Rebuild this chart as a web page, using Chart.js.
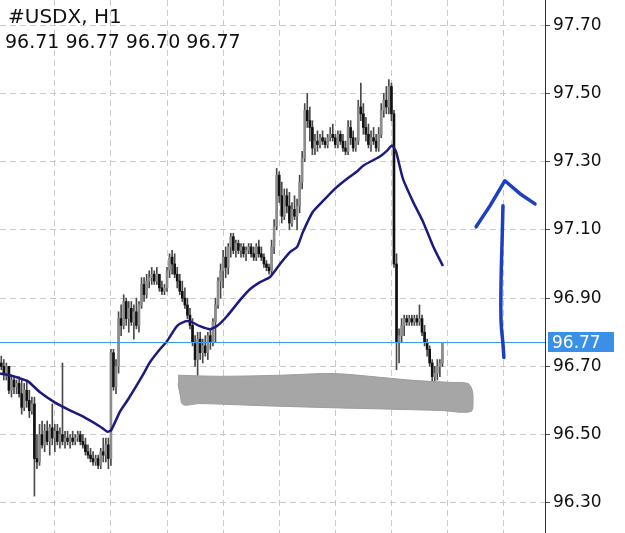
<!DOCTYPE html>
<html>
<head>
<meta charset="utf-8">
<script src="https://cdn.jsdelivr.net/npm/chart.js@4.4.1/dist/chart.umd.min.js"></script>
<style>
  html, body { margin: 0; padding: 0; background: #fff; }
  #wrap { width: 625px; height: 533px; position: relative; }
</style>
</head>
<body>
<div id="wrap"><canvas id="myChart"></canvas></div>
<script>
// USDX H1 candles
const candleOpen = [
  96.71,96.70,96.68,96.70,96.63,96.66,96.64,96.65,96.62,96.58,
  96.63,96.60,96.57,96.59,96.43,96.42,96.50,96.47,96.51,96.48,
  96.52,96.49,96.51,96.48,96.50,96.48,96.49,96.48,96.49,96.48,
  96.49,96.50,96.48,96.47,96.45,96.44,96.43,96.42,96.43,96.41,
  96.45,96.44,96.47,96.43,96.74,96.64,96.70,96.84,96.82,96.89,
  96.84,96.87,96.83,96.86,96.82,96.88,96.94,96.91,96.95,96.96,
  96.97,96.95,96.97,96.93,96.92,96.93,96.98,97.02,97.00,96.97,
  96.95,96.92,96.90,96.88,96.85,96.82,96.77,96.72,96.78,96.74,
  96.76,96.74,96.79,96.77,96.83,96.88,96.95,96.98,97.02,96.99,
  97.05,97.08,97.04,97.06,97.04,97.05,97.03,97.04,97.05,97.03,
  97.02,97.05,97.03,97.02,97.00,96.99,96.98,97.05,97.11,97.26,
  97.20,97.14,97.20,97.17,97.12,97.16,97.14,97.17,97.24,97.31,
  97.45,97.42,97.40,97.34,97.36,97.35,97.37,97.36,97.35,97.37,
  97.38,97.37,97.35,97.38,97.36,97.34,97.33,97.40,97.37,97.34,
  97.36,97.46,97.44,97.40,97.38,97.35,97.37,97.36,97.34,97.38,
  97.45,97.48,97.46,97.52,97.44,97.00,96.77,96.79,96.82,96.84,
  96.83,96.84,96.83,96.84,96.83,96.84,96.80,96.77,96.75,96.71,
  96.67,96.68,96.70,96.71
];
const candleHigh = [
  96.73,96.72,96.71,96.70,96.67,96.67,96.66,96.67,96.66,96.65,
  96.66,96.63,96.61,96.61,96.50,96.53,96.54,96.53,96.54,96.53,
  96.59,96.53,96.53,96.52,96.71,96.51,96.51,96.50,96.51,96.50,
  96.51,96.51,96.50,96.49,96.47,96.46,96.45,96.44,96.44,96.46,
  96.49,96.49,96.49,96.75,96.75,96.72,96.86,96.88,96.91,96.90,
  96.89,96.89,96.88,96.90,96.89,96.96,96.96,96.97,96.98,96.99,
  96.98,96.99,96.97,96.95,96.94,96.99,97.03,97.04,97.03,96.99,
  96.97,96.95,96.93,96.90,96.87,96.84,96.79,96.80,96.80,96.78,
  96.79,96.80,96.81,96.84,96.90,96.96,97.00,97.04,97.05,97.06,
  97.09,97.09,97.07,97.07,97.06,97.06,97.05,97.06,97.06,97.05,
  97.06,97.07,97.05,97.03,97.01,97.00,97.07,97.13,97.28,97.27,
  97.24,97.22,97.22,97.21,97.18,97.20,97.19,97.26,97.33,97.47,
  97.50,97.46,97.42,97.38,97.39,97.38,97.39,97.37,97.38,97.40,
  97.41,97.38,97.39,97.39,97.38,97.36,97.42,97.42,97.39,97.37,
  97.48,97.53,97.47,97.43,97.41,97.39,97.40,97.38,97.40,97.47,
  97.50,97.52,97.54,97.53,97.45,97.03,96.81,96.84,96.85,96.85,
  96.85,96.85,96.85,96.85,96.88,96.85,96.82,96.78,96.76,96.72,
  96.70,96.72,96.72,96.77
];
const candleLow = [
  96.69,96.66,96.66,96.62,96.61,96.62,96.62,96.61,96.56,96.57,
  96.58,96.55,96.56,96.32,96.40,96.41,96.46,96.45,96.47,96.44,
  96.47,96.45,96.47,96.46,96.47,96.46,96.47,96.46,96.47,96.47,
  96.48,96.47,96.46,96.44,96.43,96.42,96.41,96.41,96.40,96.40,
  96.42,96.42,96.40,96.41,96.63,96.62,96.68,96.79,96.81,96.82,
  96.80,96.82,96.78,96.81,96.80,96.87,96.89,96.90,96.93,96.94,
  96.94,96.94,96.92,96.91,96.91,96.92,96.96,96.97,96.96,96.93,
  96.91,96.89,96.87,96.84,96.81,96.76,96.70,96.66,96.72,96.71,
  96.73,96.72,96.75,96.76,96.77,96.87,96.90,96.93,96.96,96.97,
  97.02,97.03,97.02,97.03,97.02,97.02,97.01,97.03,97.02,97.01,
  97.01,97.02,97.01,96.99,96.98,96.97,96.97,97.03,97.10,97.18,
  97.12,97.13,97.15,97.10,97.11,97.13,97.10,97.15,97.22,97.30,
  97.40,97.36,97.32,97.32,97.33,97.34,97.35,97.34,97.34,97.36,
  97.36,97.34,97.34,97.35,97.33,97.32,97.32,97.35,97.33,97.33,
  97.35,97.42,97.38,97.36,97.34,97.33,97.35,97.33,97.33,97.37,
  97.43,97.44,97.44,97.42,96.99,96.69,96.71,96.77,96.79,96.82,
  96.82,96.82,96.82,96.82,96.82,96.79,96.76,96.73,96.70,96.65,
  96.64,96.66,96.67,96.70
];
const candleClose = [
  96.70,96.68,96.70,96.63,96.66,96.64,96.65,96.62,96.58,96.63,
  96.60,96.57,96.59,96.43,96.42,96.50,96.47,96.51,96.48,96.52,
  96.49,96.51,96.48,96.50,96.48,96.49,96.48,96.49,96.48,96.49,
  96.50,96.48,96.47,96.45,96.44,96.43,96.42,96.43,96.41,96.45,
  96.44,96.47,96.43,96.74,96.64,96.70,96.84,96.82,96.89,96.84,
  96.87,96.83,96.86,96.82,96.88,96.94,96.91,96.95,96.96,96.97,
  96.95,96.97,96.93,96.92,96.93,96.98,97.02,97.00,96.97,96.95,
  96.92,96.90,96.88,96.85,96.82,96.77,96.72,96.78,96.74,96.76,
  96.74,96.79,96.77,96.83,96.88,96.95,96.98,97.02,96.99,97.05,
  97.08,97.04,97.06,97.04,97.05,97.03,97.04,97.05,97.03,97.02,
  97.05,97.03,97.02,97.00,96.99,96.98,97.05,97.11,97.26,97.20,
  97.14,97.20,97.17,97.12,97.16,97.14,97.17,97.24,97.31,97.45,
  97.42,97.40,97.34,97.36,97.35,97.37,97.36,97.35,97.37,97.38,
  97.37,97.35,97.38,97.36,97.34,97.33,97.40,97.37,97.34,97.36,
  97.46,97.44,97.40,97.38,97.35,97.37,97.36,97.34,97.38,97.45,
  97.48,97.46,97.52,97.44,97.00,96.77,96.79,96.82,96.84,96.83,
  96.84,96.83,96.84,96.83,96.84,96.80,96.77,96.75,96.71,96.67,
  96.68,96.70,96.71,96.77
];

// moving average line, sampled along the curve (bar index, price)
const maIndex = [-0.5,3.4,7.3,10.5,15.2,21.1,27.0,32.8,38.7,41.5,43.0,46.6,49.7,55.6,58.3,62.2,65.0,68.9,72.1,74.0,77.9,81.9,84.6,88.5,93.6,97.5,101.5,105.4,109.3,113.2,116.0,118.3,122.2,126.2,130.9,135.6,139.5,141.9,148.5,151.3,153.2,154.8,157.5,161.5,165.4,169.3,173.2];
const maValue = [96.679,96.674,96.665,96.656,96.624,96.594,96.571,96.550,96.524,96.509,96.512,96.568,96.603,96.676,96.712,96.750,96.774,96.818,96.832,96.832,96.818,96.809,96.818,96.847,96.894,96.926,96.947,96.962,97.000,97.035,97.050,97.094,97.153,97.185,97.221,97.250,97.271,97.288,97.315,97.332,97.347,97.329,97.250,97.182,97.124,97.053,96.994];

// hand drawn gray zone (outline)
const zoneIndex = [69.3,85.8,109.3,130.1,148.5,161.5,176.0,183.0,184.6,185.0,184.2,172.1,156.4,128.9,101.5,77.9,71.3,70.1,69.3];
const zoneValue = [96.674,96.671,96.674,96.679,96.668,96.659,96.653,96.650,96.632,96.603,96.568,96.571,96.574,96.579,96.585,96.591,96.588,96.618,96.650];

// hand drawn arrow
const shaftIndex = [196.75,196.4,196.0,196.0,196.75,197.1];
const shaftValue = [97.171,97.068,96.950,96.832,96.765,96.726];
const headIndex = [186.2,191.7,197.5,203.4,209.3];
const headValue = [97.109,97.171,97.244,97.206,97.176];

const tickValues = [96.30, 96.50, 96.70, 96.90, 97.10, 97.30, 97.50, 97.70];
const vGridIndex = [21, 43, 65, 87, 109, 131, 153, 175, 197];

const symbolTitle = '#USDX, H1';
const lastIdx = candleClose.length - 1;
const lastPrice = candleClose[lastIdx];

const xMax = 545 / 2.55 - 0.5;

const wicks = candleHigh.map((h, i) => ({ x: i, y: [candleLow[i], h] }));
const bodies = candleOpen.map((o, i) => ({ x: i, y: [Math.min(o, candleClose[i]), Math.max(o, candleClose[i]) + (o === candleClose[i] ? 0.003 : 0)] }));
const bodyColors = candleOpen.map((o, i) => candleClose[i] >= o ? '#8c8c8c' : '#111111');

const pts = (xs, ys) => xs.map((x, i) => ({ x: x, y: ys[i] }));

const overlay = {
  id: 'overlay',
  afterDraw(chart) {
    const ctx = chart.ctx;
    const y = chart.scales.y.getPixelForValue(lastPrice);
    ctx.save();
    ctx.fillStyle = '#3a8fe6';
    ctx.fillRect(548, Math.round(y) - 10, 66, 20);
    ctx.fillStyle = '#ffffff';
    ctx.font = '17px "DejaVu Sans"';
    ctx.textBaseline = 'middle';
    ctx.fillText(lastPrice.toFixed(2), 552, y + 1);

    ctx.fillStyle = '#111';
    ctx.textBaseline = 'alphabetic';
    ctx.font = '20px "DejaVu Sans"';
    ctx.fillText(symbolTitle, 8, 23);
    ctx.font = '19px "DejaVu Sans"';
    ctx.fillText([candleOpen[lastIdx], candleHigh[lastIdx], candleLow[lastIdx], candleClose[lastIdx]].map(v => v.toFixed(2)).join(' '), 5, 48);
    ctx.restore();
  }
};

const ctx = document.getElementById('myChart').getContext('2d');
new Chart(ctx, {
  type: 'bar',
  data: {
    datasets: [
      {
        type: 'line',
        data: pts(zoneIndex, zoneValue),
        borderColor: '#9c9c9c',
        borderWidth: 1,
        backgroundColor: '#a6a6a6',
        fill: 'shape',
        pointRadius: 0,
        tension: 0.3,
        order: 0
      },
      {
        type: 'line',
        data: pts(shaftIndex, shaftValue),
        borderColor: '#1d3fc0',
        borderWidth: 3.5,
        borderCapStyle: 'round',
        pointRadius: 0,
        tension: 0.4,
        order: 0
      },
      {
        type: 'line',
        data: pts(headIndex, headValue),
        borderColor: '#1d3fc0',
        borderWidth: 3.5,
        borderCapStyle: 'round',
        borderJoinStyle: 'round',
        pointRadius: 0,
        tension: 0,
        order: 0
      },
      {
        type: 'line',
        data: [{ x: -0.5, y: lastPrice }, { x: xMax, y: lastPrice }],
        borderColor: '#3a9ae8',
        borderWidth: 1,
        pointRadius: 0,
        order: 1
      },
      {
        type: 'line',
        data: pts(maIndex, maValue),
        borderColor: '#1b1b7e',
        borderWidth: 2.5,
        pointRadius: 0,
        tension: 0.2,
        order: 1
      },
      {
        data: bodies,
        backgroundColor: bodyColors,
        barThickness: 2,
        grouped: false,
        order: 2
      },
      {
        data: wicks,
        backgroundColor: '#4a4a4a',
        barThickness: 1,
        grouped: false,
        order: 3
      }
    ]
  },
  options: {
    responsive: true,
    maintainAspectRatio: false,
    animation: false,
    layout: { padding: 0 },
    plugins: { legend: { display: false }, tooltip: { enabled: false } },
    scales: {
      x: {
        type: 'linear',
        min: -0.5,
        max: xMax,
        offset: false,
        ticks: { display: false },
        grid: { color: '#c8c8c8', offset: false, drawTicks: false },
        border: { display: false, dash: [6, 4] },
        afterBuildTicks: (s) => { s.ticks = vGridIndex.map(v => ({ value: v })); },
        afterFit: (s) => {
          s.height = 0;
          s.paddingLeft = 0; s.paddingRight = 0; s.paddingTop = 0; s.paddingBottom = 0;
        }
      },
      y: {
        position: 'right',
        min: 96.2118,
        max: 97.7735,
        ticks: {
          color: '#111',
          font: { family: 'DejaVu Sans', size: 17 },
          padding: 3,
          callback: (v) => Number(v).toFixed(2)
        },
        grid: { color: '#c8c8c8', tickColor: '#555', tickLength: 5, tickBorderDash: [] },
        border: { color: '#333', width: 1, dash: [6, 4] },
        afterBuildTicks: (s) => { s.ticks = tickValues.map(v => ({ value: v })); },
        afterFit: (s) => {
          s.width = 80;
          s.paddingLeft = 0; s.paddingRight = 0; s.paddingTop = 0; s.paddingBottom = 0;
        }
      }
    }
  },
  plugins: [overlay]
});
</script>
</body>
</html>
